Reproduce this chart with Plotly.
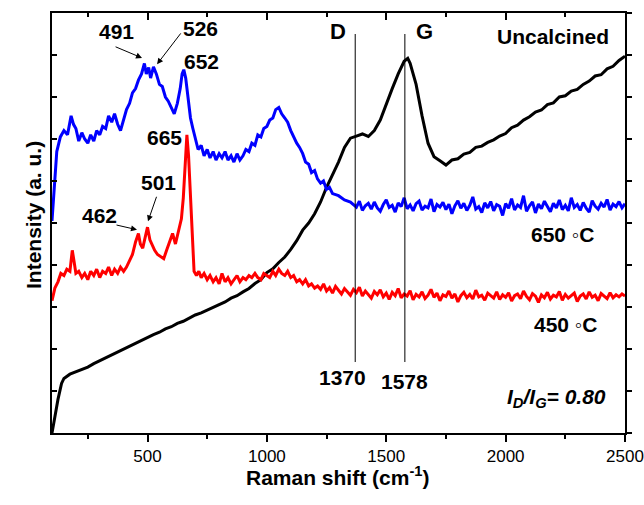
import plotly.graph_objects as go

# ---------------- data ----------------
black_x = [100,110,125,140,150,175,200,225,250,275,300,325,350,375,400,425,450,475,500,525,550,575,600,625,650,675,700,725,750,775,800,825,850,875,900,925,950,975,1000,1025,1050,1075,1100,1125,1150,1175,1200,1225,1250,1275,1300,1325,1350,1375,1400,1425,1450,1475,1500,1525,1550,1575,1590,1600,1625,1650,1675,1700,1725,1750,1775,1800,1825,1850,1875,1900,1925,1950,1975,2000,2025,2050,2075,2100,2125,2150,2175,2200,2225,2250,2275,2300,2325,2350,2375,2400,2425,2450,2475,2500]
black_y = [0.00,0.35,0.80,1.18,1.30,1.40,1.46,1.51,1.57,1.65,1.72,1.79,1.86,1.92,2.00,2.06,2.14,2.21,2.28,2.34,2.40,2.48,2.53,2.61,2.66,2.73,2.81,2.86,2.93,2.99,3.06,3.12,3.21,3.27,3.36,3.44,3.56,3.65,3.82,3.91,4.06,4.19,4.37,4.58,4.83,5.00,5.22,5.50,5.85,6.15,6.45,6.80,7.02,7.07,7.12,7.06,7.20,7.45,7.85,8.20,8.55,8.85,8.92,8.80,8.30,7.55,6.90,6.58,6.48,6.38,6.50,6.53,6.64,6.68,6.80,6.83,6.92,6.98,7.07,7.13,7.27,7.33,7.45,7.53,7.64,7.69,7.82,7.86,8.00,8.03,8.14,8.18,8.30,8.38,8.50,8.53,8.67,8.73,8.87,8.97]

# 650 C, structured part (100 - 1350 cm-1)
blue_x = [100,110,120,135,150,165,180,190,200,212,225,237,250,262,275,287,300,312,325,337,350,362,375,387,400,412,425,437,450,462,475,487,495,505,513,525,537,550,562,575,587,600,612,625,637,645,652,660,670,680,690,700,712,725,737,750,762,775,787,800,812,825,837,850,862,875,887,900,912,925,937,950,962,975,987,1000,1012,1025,1037,1050,1062,1075,1087,1100,1112,1125,1137,1150,1162,1175,1187,1200,1212,1225,1237,1250,1262,1275,1300,1325,1350]
blue_y = [5.05,6.00,6.70,7.05,7.20,7.10,7.55,7.35,7.25,6.95,7.15,7.00,6.90,7.10,6.95,7.20,7.10,7.30,7.25,7.55,7.40,7.60,7.35,7.20,7.45,7.70,7.85,8.10,8.20,8.40,8.55,8.80,8.55,8.70,8.45,8.72,8.55,8.30,8.25,8.00,7.90,7.75,7.60,7.85,8.20,8.55,8.65,8.45,8.00,7.50,7.25,7.00,6.75,6.85,6.60,6.75,6.55,6.70,6.50,6.65,6.55,6.70,6.50,6.60,6.45,6.65,6.50,6.60,6.75,6.70,6.90,6.85,7.10,7.05,7.25,7.30,7.45,7.50,7.70,7.75,7.60,7.50,7.40,7.20,7.05,6.90,6.80,6.65,6.45,6.40,6.20,6.25,6.05,5.95,6.00,5.80,5.85,5.70,5.65,5.55,5.50]
# 650 C, flat noisy tail, read every 12.5 cm-1 from 1362.5 to 2500
blue_tail = [5.45,5.38,5.52,5.30,5.41,5.47,5.33,5.50,5.36,5.28,
             5.44,5.55,5.37,5.42,5.26,5.48,5.39,5.60,5.34,5.43,
             5.29,5.46,5.52,5.31,5.40,5.36,5.57,5.27,5.44,5.38,
             5.49,5.32,5.45,5.22,5.41,5.53,5.35,5.47,5.30,5.42,
             5.62,5.33,5.39,5.25,5.48,5.36,5.51,5.29,5.44,5.40,
             5.18,5.46,5.35,5.58,5.31,5.43,5.37,5.65,5.28,5.41,
             5.50,5.24,5.45,5.34,5.52,5.38,5.27,5.47,5.36,5.55,
             5.32,5.42,5.29,5.60,5.37,5.44,5.30,5.49,5.35,5.26,
             5.53,5.40,5.33,5.47,5.38,5.56,5.31,5.45,5.39,5.51,
             5.36,5.46]

# 450 C, structured part (100 - 1200 cm-1)
red_x = [100,112,125,137,150,162,175,185,192,200,212,225,237,250,262,275,287,300,312,325,337,350,362,375,387,400,412,425,437,450,462,470,480,490,500,510,520,530,542,555,568,580,592,605,617,630,642,650,657,665,672,680,688,695,705,715,725,737,750,762,775,787,800,812,825,837,850,862,875,887,900,912,925,937,950,962,975,987,1000,1012,1025,1037,1050,1062,1075,1087,1100,1112,1125,1137,1150,1162,1175,1187,1200]
red_y = [3.15,3.45,3.60,3.80,3.75,3.90,3.85,4.35,4.10,3.80,3.85,3.70,3.80,3.65,3.85,3.75,3.90,3.70,3.85,3.80,3.95,3.75,3.90,3.80,3.95,3.85,3.95,4.10,4.25,4.55,4.75,4.50,4.40,4.65,4.90,4.60,4.45,4.35,4.25,4.20,4.15,4.35,4.55,4.75,4.50,4.85,5.10,5.60,6.40,7.10,6.60,5.60,4.50,3.85,3.75,3.85,3.70,3.80,3.65,3.75,3.60,3.70,3.55,3.80,3.60,3.70,3.55,3.65,3.75,3.60,3.70,3.65,3.75,3.70,3.80,3.70,3.65,3.80,3.75,3.70,3.85,3.75,3.90,3.80,3.75,3.85,3.70,3.75,3.60,3.65,3.55,3.65,3.50,3.55,3.45]
# 450 C, flat noisy tail, read every 12.5 cm-1 from 1212.5 to 2500
red_tail = [3.50,3.42,3.55,3.38,3.46,3.33,3.49,3.40,3.31,3.44,
            3.36,3.28,3.42,3.34,3.47,3.26,3.38,3.30,3.21,3.37,
            3.29,3.41,3.24,3.33,3.18,3.35,3.27,3.44,3.22,3.31,
            3.26,3.39,3.17,3.30,3.24,3.36,3.20,3.28,3.42,3.23,
            3.33,3.15,3.29,3.25,3.38,3.21,3.31,3.12,3.27,3.35,
            3.22,3.30,3.19,3.40,3.24,3.28,3.16,3.33,3.26,3.21,
            3.36,3.18,3.29,3.23,3.34,3.14,3.27,3.31,3.20,3.38,
            3.25,3.17,3.32,3.26,3.11,3.29,3.22,3.35,3.19,3.28,
            3.24,3.37,3.16,3.30,3.21,3.27,3.33,3.13,3.26,3.31,
            3.19,3.36,3.23,3.28,3.15,3.32,3.25,3.20,3.34,3.22,
            3.29,3.24,3.31,3.26]

band_positions = [1370, 1578]
band_names = ["D", "G"]
x_tick_vals = [500, 1000, 1500, 2000, 2500]
x_minor_vals = [250, 750, 1250, 1750, 2250]

# sampling grid for the tails (12.5 cm-1 steps ending at 2500)
blue_tail_x = [2500 - 12.5 * (len(blue_tail) - 1 - i) for i in range(len(blue_tail))]
red_tail_x = [2500 - 12.5 * (len(red_tail) - 1 - i) for i in range(len(red_tail))]

FONT = "Liberation Sans, Arial, sans-serif"

fig = go.Figure()
fig.add_trace(go.Scatter(x=black_x, y=black_y, mode="lines",
                         line=dict(color="black", width=3), showlegend=False))
fig.add_trace(go.Scatter(x=red_x + red_tail_x, y=red_y + red_tail, mode="lines",
                         line=dict(color="#ff0000", width=3), showlegend=False))
fig.add_trace(go.Scatter(x=blue_x + blue_tail_x, y=blue_y + blue_tail, mode="lines",
                         line=dict(color="#0000ff", width=3), showlegend=False))
# helper trace to activate the mirrored (top/right) axes
fig.add_trace(go.Scatter(x=[None], y=[None], xaxis="x2", yaxis="y2",
                         showlegend=False, hoverinfo="skip"))

# D and G reference lines
for xv in band_positions:
    fig.add_shape(type="line", x0=xv, x1=xv, y0=1.69, y1=9.5, xref="x", yref="y",
                  line=dict(color="black", width=1))

ann = []
def txt(x, y, s, size=21, **kw):
    ann.append(dict(x=x, y=y, xref="x", yref="y", text=s, showarrow=False,
                    font=dict(family=FONT, size=size, color="black"), **kw))

def arrow(x0, y0, x1, y1):
    ann.append(dict(x=x1, y=y1, ax=x0, ay=y0, xref="x", yref="y", axref="x", ayref="y",
                    text="", showarrow=True, arrowhead=2, arrowsize=1.2,
                    arrowwidth=1, arrowcolor="black"))

txt(372, 9.55, "<b>491</b>")
arrow(360, 9.21, 477, 8.93)
txt(720, 9.62, "<b>526</b>")
arrow(644, 9.55, 540, 8.78)
txt(728, 8.85, "<b>652</b>")
txt(573, 7.04, "<b>665</b>")
txt(544, 5.97, "<b>501</b>")
arrow(540, 5.66, 502, 5.04)
txt(297, 5.18, "<b>462</b>")
arrow(364, 4.96, 456, 4.84)
txt(1298, 9.55, "<b>%s</b>" % band_names[0], size=22)
txt(1662, 9.55, "<b>%s</b>" % band_names[1], size=22)
txt(2198, 9.43, "<b>Uncalcined</b>")
txt(2240, 4.73, "<b>650 ◦C</b>")
txt(2249, 2.58, "<b>450 ◦C</b>")
txt(1315, 1.31, "<b>%d</b>" % band_positions[0])
txt(1578, 1.22, "<b>%d</b>" % band_positions[1])
txt(2215, 0.84, "<b><i>I<sub>D</sub>/I<sub>G</sub>= 0.80</i></b>")

# axis titles
ann.append(dict(x=0.499, y=-0.138, xref="paper", yref="paper", showarrow=False,
                text="<b>Raman shift (cm<sup>-1</sup>)</b>",
                font=dict(family=FONT, size=21, color="black")))
ann.append(dict(x=-0.056, y=0.52, xref="paper", yref="paper", showarrow=False,
                text="<b>Intensity (a. u.)</b>", textangle=-90,
                font=dict(family=FONT, size=21, color="black")))

fig.update_layout(
    width=644, height=505,
    margin=dict(l=52, r=19, t=13, b=72),
    paper_bgcolor="white", plot_bgcolor="white",
    font=dict(family=FONT, size=17, color="black"),
    annotations=ann,
    xaxis=dict(range=[100, 2500], tickvals=x_tick_vals, ticks="outside", ticklen=7,
               tickwidth=1.5, tickcolor="black", automargin=False,
               minor=dict(tickvals=x_minor_vals, ticks="outside",
                          ticklen=4, tickwidth=1.5, tickcolor="black"),
               showline=True, linecolor="black", linewidth=2, showgrid=False,
               zeroline=False, tickfont=dict(family=FONT, size=17, color="black")),
    yaxis=dict(range=[0, 10], dtick=1, tick0=0, ticks="inside", ticklen=5,
               tickwidth=1.5, tickcolor="black", showticklabels=False,
               showline=True, linecolor="black", linewidth=2, showgrid=False,
               zeroline=False, automargin=False),
    xaxis2=dict(range=[100, 2500], overlaying="x", side="top", anchor="y2",
                tickvals=x_tick_vals, ticks="inside", ticklen=7, tickwidth=1.5,
                tickcolor="black", automargin=False,
                minor=dict(tickvals=x_minor_vals, ticks="inside",
                           ticklen=4, tickwidth=1.5, tickcolor="black"),
                showticklabels=False, showline=True, linecolor="black",
                linewidth=2, showgrid=False, zeroline=False),
    yaxis2=dict(range=[0, 10], overlaying="y", side="right", anchor="x2",
                dtick=1, tick0=0, ticks="outside", ticklen=5, tickwidth=1.5,
                tickcolor="black", showticklabels=False, showline=True,
                linecolor="black", linewidth=2, showgrid=False, zeroline=False,
                automargin=False),
)

fig.write_html("out.html")
